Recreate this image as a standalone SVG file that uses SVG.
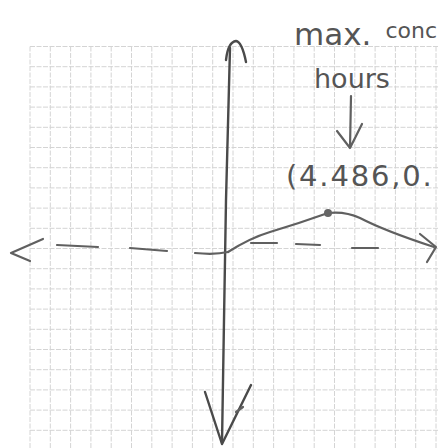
<svg xmlns="http://www.w3.org/2000/svg" width="438" height="448" viewBox="0 0 438 448">
<style>
.grid line{stroke:#d4d4d4;stroke-width:1;stroke-dasharray:5 1.5}
.ink{fill:none;stroke:#4a4a4a;stroke-width:2.4;stroke-linecap:round;stroke-linejoin:round}
.pen{fill:none;stroke:#606060;stroke-width:2.2;stroke-linecap:round;stroke-linejoin:round}
.hand{font-family:"DejaVu Sans","Liberation Sans",sans-serif;fill:#555}
</style>
<rect width="438" height="448" fill="#fff"/>
<g class="grid" id="grid">
<line x1="30" y1="46.5" x2="30" y2="448"/><line x1="50.3" y1="46.5" x2="50.3" y2="448"/><line x1="70.6" y1="46.5" x2="70.6" y2="448"/><line x1="90.9" y1="46.5" x2="90.9" y2="448"/><line x1="111.2" y1="46.5" x2="111.2" y2="448"/><line x1="131.5" y1="46.5" x2="131.5" y2="448"/><line x1="151.8" y1="46.5" x2="151.8" y2="448"/><line x1="172.1" y1="46.5" x2="172.1" y2="448"/><line x1="192.4" y1="46.5" x2="192.4" y2="448"/><line x1="212.7" y1="46.5" x2="212.7" y2="448"/><line x1="233" y1="46.5" x2="233" y2="448"/><line x1="253.3" y1="46.5" x2="253.3" y2="448"/><line x1="273.6" y1="46.5" x2="273.6" y2="448"/><line x1="293.9" y1="46.5" x2="293.9" y2="448"/><line x1="314.2" y1="46.5" x2="314.2" y2="448"/><line x1="334.5" y1="46.5" x2="334.5" y2="448"/><line x1="354.8" y1="46.5" x2="354.8" y2="448"/><line x1="375.1" y1="46.5" x2="375.1" y2="448"/><line x1="395.4" y1="46.5" x2="395.4" y2="448"/><line x1="415.7" y1="46.5" x2="415.7" y2="448"/><line x1="436" y1="46.5" x2="436" y2="448"/>
<line x1="30" y1="46.5" x2="438" y2="46.5"/><line x1="30" y1="66.7" x2="438" y2="66.7"/><line x1="30" y1="86.9" x2="438" y2="86.9"/><line x1="30" y1="107.1" x2="438" y2="107.1"/><line x1="30" y1="127.3" x2="438" y2="127.3"/><line x1="30" y1="147.5" x2="438" y2="147.5"/><line x1="30" y1="167.7" x2="438" y2="167.7"/><line x1="30" y1="187.9" x2="438" y2="187.9"/><line x1="30" y1="208.1" x2="438" y2="208.1"/><line x1="30" y1="228.3" x2="438" y2="228.3"/><line x1="30" y1="248.5" x2="438" y2="248.5"/><line x1="30" y1="268.7" x2="438" y2="268.7"/><line x1="30" y1="288.9" x2="438" y2="288.9"/><line x1="30" y1="309.1" x2="438" y2="309.1"/><line x1="30" y1="329.3" x2="438" y2="329.3"/><line x1="30" y1="349.5" x2="438" y2="349.5"/><line x1="30" y1="369.7" x2="438" y2="369.7"/><line x1="30" y1="389.9" x2="438" y2="389.9"/><line x1="30" y1="410.1" x2="438" y2="410.1"/><line x1="30" y1="430.3" x2="438" y2="430.3"/>
</g>
<g id="y-axis">
<path class="ink" d="M230 48 L226 200 L224 320 L222 443"/>
<path class="ink" d="M226 60 Q228 42 236 41 Q242 42 246 62" stroke-width="2"/>
<path class="ink" d="M205 392 L222 444 L251 385"/>
<path class="pen" d="M236 412 L243 407" stroke-width="1.6"/>
</g>
<g id="x-axis">
<path class="pen" d="M43 239 L11 253 L30 261"/>
<path class="pen" d="M57 245 L98 247"/>
<path class="pen" d="M130 248 L167 251"/>
<path class="pen" d="M195 253 Q215 255 228 252"/>
<path class="pen" d="M251 243 L277 243"/>
<path class="pen" d="M296 244 L320 245"/>
<path class="pen" d="M352 248 L378 248"/>
<path class="pen" d="M420 234 L436 247 L427 262"/>
</g>
<g id="curve">
<path class="pen" d="M228 252 Q250 238 270 232 Q300 223 328 213 Q345 211 360 218 Q385 231 434 247"/>
<circle cx="328" cy="213" r="4" fill="#666"/>
</g>
<g id="labels">
<text class="hand" x="294" y="45" font-size="31" fill="#4a4a4a">max.<tspan font-size="22" dx="14" dy="-7">conc</tspan></text>
<text class="hand" x="314" y="88" font-size="27" fill="#4a4a4a">hours</text>
<path class="pen" d="M351 96 L350 148 M337 131 L350 148 L362 124" stroke="#555"/>
<text class="hand" x="286" y="186" font-size="29" letter-spacing="1.8" fill="#777">(4.486,0.</text>
</g>
</svg>
